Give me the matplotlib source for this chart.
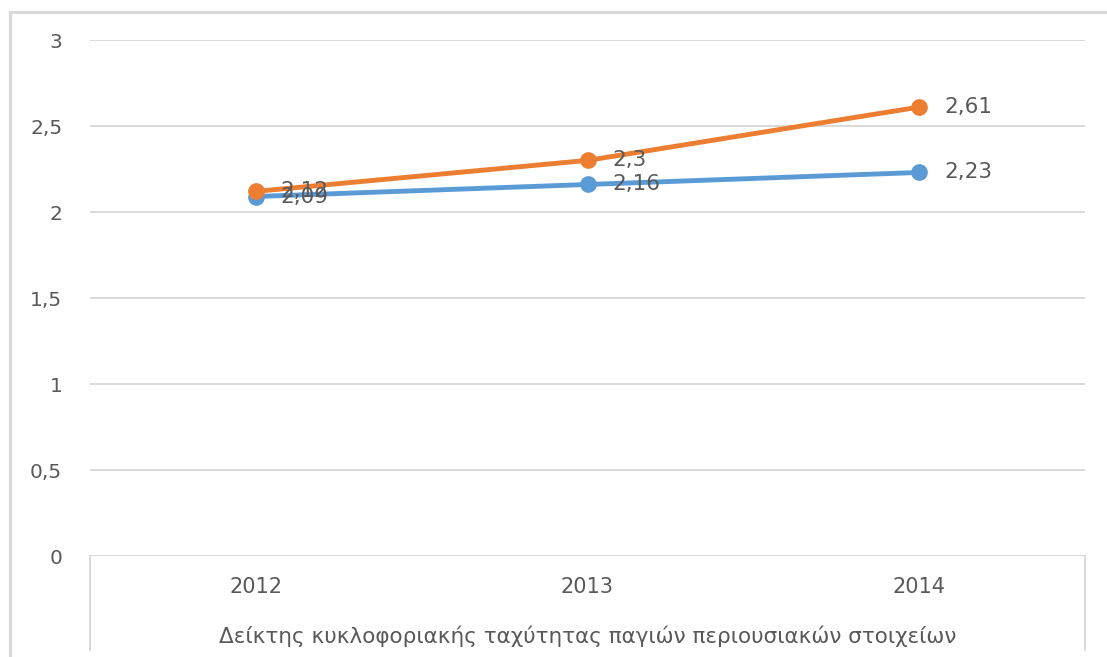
import matplotlib.pyplot as plt
from matplotlib.lines import Line2D

years = ['2012', '2013', '2014']
series_blue = [2.09, 2.16, 2.23]
series_orange = [2.12, 2.3, 2.61]
y_ticks = [0, 0.5, 1, 1.5, 2, 2.5, 3]
y_tick_labels = ['0', '0,5', '1', '1,5', '2', '2,5', '3']
category_title = 'Δείκτης κυκλοφοριακής ταχύτητας παγιών περιουσιακών στοιχείων'

text_color = '#595959'
grid_color = '#D9D9D9'

fig = plt.figure(figsize=(11.07, 6.57), dpi=100)
ax = fig.add_axes([90 / 1107, 1 - 556 / 657, 995 / 1107, 516 / 657])

x = range(len(years))
for values, color in [(series_blue, '#5B9BD5'), (series_orange, '#ED7D31')]:
    ax.plot(x, values, color=color, lw=3.5, marker='o', ms=11,
            solid_capstyle='round', zorder=3)
    for xi, v in zip(x, values):
        ax.annotate(f'{v:g}'.replace('.', ','), (xi, v), xytext=(18, 0),
                    textcoords='offset points', va='center', ha='left',
                    fontsize=15.5, color=text_color, zorder=4)

ax.set_xlim(-0.5, 2.5)
ax.set_ylim(0, 3)
ax.set_yticks(y_ticks)
ax.set_yticklabels(y_tick_labels)
ax.yaxis.grid(True, color=grid_color, lw=1.4)
ax.set_axisbelow(True)
ax.tick_params(axis='y', length=0, pad=20, labelsize=14.5, labelcolor=text_color)
ax.set_xticks(list(x))
ax.set_xticklabels(years)
ax.tick_params(axis='x', length=0, pad=15, labelsize=15, labelcolor=text_color)
for s in ax.spines.values():
    s.set_visible(False)

# category title under the years
ax.text(0.5, -0.155, category_title, transform=ax.transAxes, ha='center',
        va='center', fontsize=15.5, color=text_color)

# frame of the category area below the plot
for xf in (90 / 1107, 1085 / 1107):
    fig.add_artist(Line2D([xf, xf], [1 - 556 / 657, 1 - 650 / 657],
                          color=grid_color, lw=1.4))

# outer chart border (left and top edges)
fig.add_artist(Line2D([10 / 1107, 10 / 1107], [0, 1 - 12 / 657],
                      color=grid_color, lw=2.2))
fig.add_artist(Line2D([10 / 1107, 1], [1 - 12 / 657, 1 - 12 / 657],
                      color=grid_color, lw=2.2))

fig.savefig('out.png', dpi=100, facecolor='white')
